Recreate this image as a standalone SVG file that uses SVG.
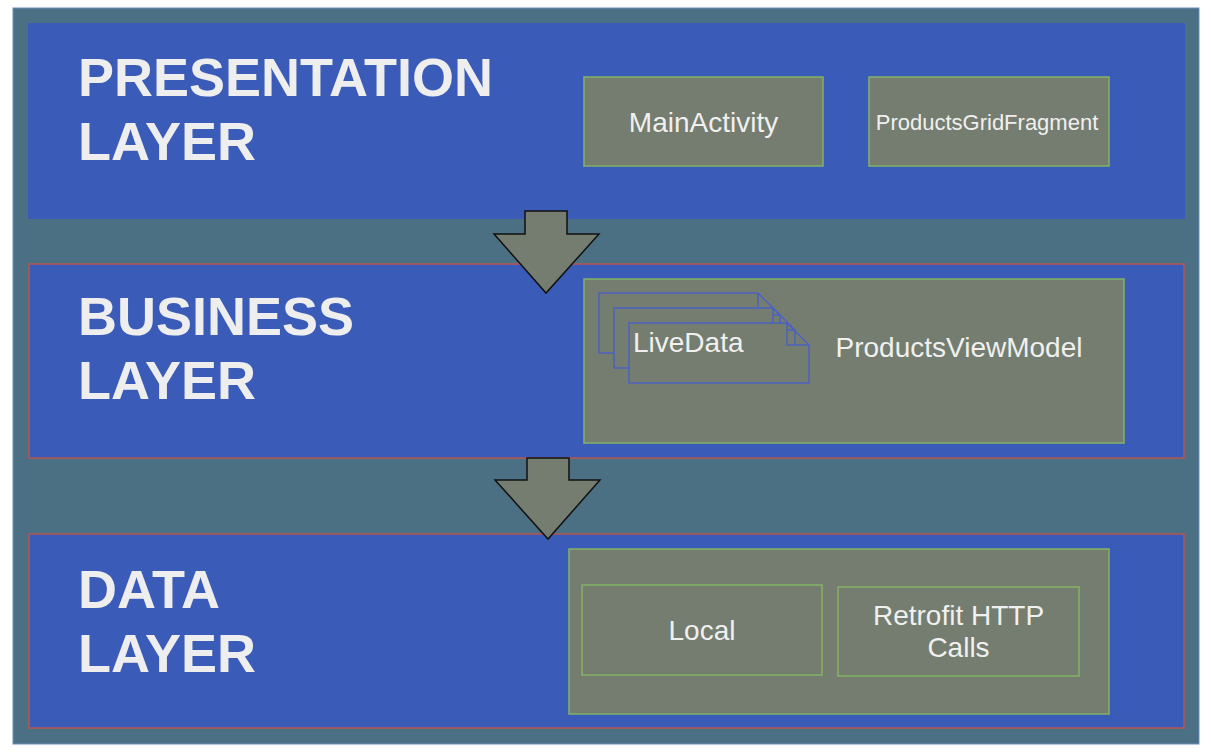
<svg xmlns="http://www.w3.org/2000/svg" width="1211" height="755" viewBox="0 0 1211 755">
<style>
.layer{fill:#3a5bb8}
.node{fill:#747d6f;stroke:#82b366;stroke-width:1.5}
.doc{fill:#747d6f;stroke:#4a62c0;stroke-width:1.5}
.arrow{fill:#747d6f;stroke:#111;stroke-width:1.5;stroke-linejoin:miter}
.title{font-family:"Liberation Sans",Arial,sans-serif;font-weight:bold;font-size:54px;fill:#eeeeee}
.lbl{font-family:"Liberation Sans",Arial,sans-serif;font-size:28px;fill:#f0f0f0}
</style>
<rect width="1211" height="755" fill="#ffffff"/>
<g id="frame">
<rect x="13" y="8" width="1186" height="736" fill="#4b7083" stroke="#6c8ebf" stroke-width="1"/>
</g>
<g id="presentation-layer">
<rect class="layer" x="28" y="23" width="1157" height="196"/>
<text class="title" x="78" y="96">PRESENTATION</text>
<text class="title" x="78" y="160">LAYER</text>
</g>
<g id="business-layer">
<rect class="layer" x="29" y="264" width="1155" height="194" stroke="#b85450" stroke-width="1.5"/>
<text class="title" x="78" y="335">BUSINESS</text>
<text class="title" x="78" y="399">LAYER</text>
</g>
<g id="data-layer">
<rect class="layer" x="29" y="534" width="1155" height="194" stroke="#b85450" stroke-width="1.5"/>
<text class="title" x="78" y="608">DATA</text>
<text class="title" x="78" y="672">LAYER</text>
</g>
<g id="connectors">
<polygon class="arrow" points="525,211 567,211 567,234 599,234 546,293 494,234 525,234"/>
<polygon class="arrow" points="527,458 569,458 569,480 600,480 548,539 495,480 527,480"/>
</g>
<g id="main-activity">
<rect class="node" x="584" y="77" width="239" height="89"/>
<text class="lbl" x="703.500" y="132" text-anchor="middle">MainActivity</text>
</g>
<g id="products-grid-fragment">
<rect class="node" x="869" y="77" width="240" height="89"/>
<text class="lbl" x="987" y="130" text-anchor="middle" font-size="22" style="font-size:22px">ProductsGridFragment</text>
</g>
<g id="products-view-model">
<rect class="node" x="584" y="279" width="540" height="164"/>
<text class="lbl" x="959" y="357" text-anchor="middle">ProductsViewModel</text>
</g>
<g id="live-data">
<path class="doc" d="M599,293 H758 L780,315 V353 H599 Z M758,293 V315 H780"/>
<path class="doc" d="M614,308 H773 L795,330 V368 H614 Z M773,308 V330 H795"/>
<path class="doc" d="M629,323 H787 L809,345 V383 H629 Z M787,323 V345 H809"/>
<text class="lbl" x="633" y="352">LiveData</text>
</g>
<g id="data-container">
<rect class="node" x="569" y="549" width="540" height="165"/>
</g>
<g id="local">
<rect class="node" x="582" y="585" width="240" height="90"/>
<text class="lbl" x="702" y="640" text-anchor="middle">Local</text>
</g>
<g id="retrofit">
<rect class="node" x="838" y="587" width="241" height="89"/>
<text class="lbl" x="958.500" y="625" text-anchor="middle">Retrofit HTTP</text>
<text class="lbl" x="958.500" y="657" text-anchor="middle">Calls</text>
</g>
</svg>
